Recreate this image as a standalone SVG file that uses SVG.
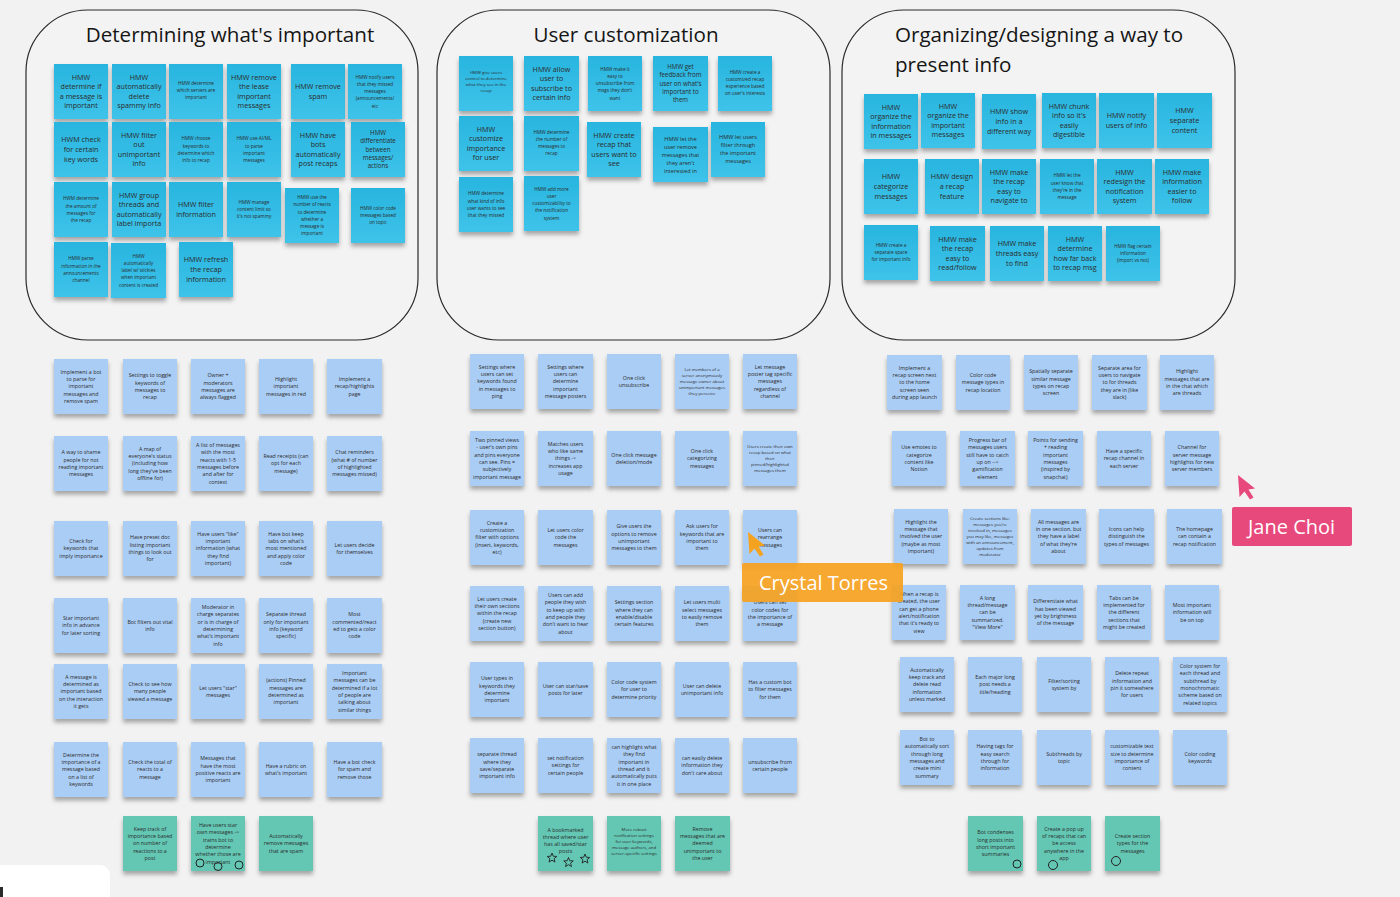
<svg xmlns="http://www.w3.org/2000/svg" width="1400" height="897" viewBox="0 0 1400 897">
<defs>
<linearGradient id="gc" x1="0" y1="0" x2="0" y2="1"><stop offset="0" stop-color="#28b5df"/><stop offset="1" stop-color="#3ec3ea"/></linearGradient>
<filter id="sh" x="-20%" y="-20%" width="140%" height="150%"><feDropShadow dx="0" dy="3.5" stdDeviation="2.2" flood-color="#000" flood-opacity="0.32"/></filter>
<path id="star" d="M0,-5 L1.29,-1.78 L4.76,-1.55 L2.09,0.68 L2.94,4.05 L0,2.2 L-2.94,4.05 L-2.09,0.68 L-4.76,-1.55 L-1.29,-1.78 Z" fill="none" stroke="#222" stroke-width="0.9"/>
</defs>
<style>
.c1{fill:url(#gc);filter:url(#sh)}
.c2{fill:#aacdf5;filter:url(#sh)}
.c3{fill:#63c7b4;filter:url(#sh)}
.box{fill:#f3f3f3;stroke:#2a2a2a;stroke-width:1.2}
text{font-family:"Open Sans","Liberation Sans",sans-serif;fill:#2b2b2b;text-anchor:middle}
.title{font-size:20.6px;fill:#151515}
.L{font-size:7.2px}.K{font-size:6.2px}.Q{font-size:5.6px}.M{font-size:5.3px}.S{font-size:4.7px}.T{font-size:4.3px}
.ring{fill:none;stroke:#222;stroke-width:1}
.lbl{font-size:20px;fill:#fff;text-anchor:start}
</style>
<rect x="0" y="0" width="1400" height="897" fill="#f2f2f2"/>

<g id="frame-important"><rect class="box" x="26" y="10" width="392" height="330" rx="62"/><text class="title" x="230" y="42">Determining what's important</text></g>
<g id="frame-custom"><rect class="box" x="437" y="10" width="393" height="330" rx="62"/><text class="title" x="626" y="42">User customization</text></g>
<g id="frame-organize"><rect class="box" x="842" y="10" width="393" height="330" rx="62"/><text class="title" x="895" y="42" style="text-anchor:start">Organizing/designing a way to</text><text class="title" x="895" y="72" style="text-anchor:start">present info</text></g>

<g id="connectors"></g>

<!-- Top left -->
<g id="a1"><rect class="c1" x="54" y="64" width="54" height="55"/><text class="L" x="81" y="79.6"><tspan x="81">HMW</tspan><tspan x="81" dy="9.6">determine if</tspan><tspan x="81" dy="9.6">a message is</tspan><tspan x="81" dy="9.6">important</tspan></text></g>
<g id="a2"><rect class="c1" x="112" y="64" width="54" height="55"/><text class="L" x="139" y="79.6"><tspan x="139">HMW</tspan><tspan x="139" dy="9.6">automatically</tspan><tspan x="139" dy="9.6">delete</tspan><tspan x="139" dy="9.6">spammy info</tspan></text></g>
<g id="a3"><rect class="c1" x="169" y="64" width="54" height="55"/><text class="S" x="196" y="84.5"><tspan x="196">HMW determine</tspan><tspan x="196" dy="7.3">which servers are</tspan><tspan x="196" dy="7.3">important</tspan></text></g>
<g id="a4"><rect class="c1" x="227" y="64" width="54" height="55"/><text class="L" x="254" y="79.6"><tspan x="254">HMW remove</tspan><tspan x="254" dy="9.6">the lease</tspan><tspan x="254" dy="9.6">important</tspan><tspan x="254" dy="9.6">messages</tspan></text></g>
<g id="a5"><rect class="c1" x="291" y="64" width="54" height="55"/><text class="L" x="318" y="89.2"><tspan x="318">HMW remove</tspan><tspan x="318" dy="9.6">spam</tspan></text></g>
<g id="a6"><rect class="c1" x="348" y="64" width="54" height="55"/><text class="S" x="375" y="78.5"><tspan x="375">HMW notify users</tspan><tspan x="375" dy="7.3">that they missed</tspan><tspan x="375" dy="7.3">messages</tspan><tspan x="375" dy="7.3">(announcements/</tspan><tspan x="375" dy="7.3">etc</tspan></text></g>

<g id="a7"><rect class="c1" x="54" y="122" width="54" height="55"/><text class="L" x="81" y="142.4"><tspan x="81">HWM check</tspan><tspan x="81" dy="9.6">for certain</tspan><tspan x="81" dy="9.6">key words</tspan></text></g>
<g id="a8"><rect class="c1" x="112" y="122" width="54" height="55"/><text class="L" x="139" y="137.6"><tspan x="139">HMW filter</tspan><tspan x="139" dy="9.6">out</tspan><tspan x="139" dy="9.6">unimportant</tspan><tspan x="139" dy="9.6">info</tspan></text></g>
<g id="a9"><rect class="c1" x="169" y="122" width="54" height="55"/><text class="S" x="196" y="140.2"><tspan x="196">HMW choose</tspan><tspan x="196" dy="7.3">keywords to</tspan><tspan x="196" dy="7.3">determine which</tspan><tspan x="196" dy="7.3">info to recap</tspan></text></g>
<g id="a10"><rect class="c1" x="227" y="122" width="54" height="55"/><text class="S" x="254" y="140.2"><tspan x="254">HMW use AI/ML</tspan><tspan x="254" dy="7.3">to parse</tspan><tspan x="254" dy="7.3">important</tspan><tspan x="254" dy="7.3">messages</tspan></text></g>
<g id="a11"><rect class="c1" x="291" y="122" width="54" height="55"/><text class="L" x="318" y="137.6"><tspan x="318">HMW have</tspan><tspan x="318" dy="9.6">bots</tspan><tspan x="318" dy="9.6">automatically</tspan><tspan x="318" dy="9.6">post recaps</tspan></text></g>
<g id="a12"><rect class="c1" x="351" y="122" width="54" height="55"/><text class="K" x="378" y="135.1"><tspan x="378">HMW</tspan><tspan x="378" dy="8.3">differentiate</tspan><tspan x="378" dy="8.3">between</tspan><tspan x="378" dy="8.3">messages/</tspan><tspan x="378" dy="8.3">actions</tspan></text></g>

<g id="a13"><rect class="c1" x="54" y="182" width="54" height="55"/><text class="S" x="81" y="200.2"><tspan x="81">HWM determine</tspan><tspan x="81" dy="7.3">the amount of</tspan><tspan x="81" dy="7.3">messages for</tspan><tspan x="81" dy="7.3">the recap</tspan></text></g>
<g id="a14"><rect class="c1" x="112" y="182" width="54" height="55"/><text class="L" x="139" y="197.6"><tspan x="139">HMW group</tspan><tspan x="139" dy="9.6">threads and</tspan><tspan x="139" dy="9.6">automatically</tspan><tspan x="139" dy="9.6">label importa</tspan></text></g>
<g id="a15"><rect class="c1" x="169" y="182" width="54" height="55"/><text class="L" x="196" y="207.2"><tspan x="196">HMW filter</tspan><tspan x="196" dy="9.6">information</tspan></text></g>
<g id="a16"><rect class="c1" x="227" y="182" width="54" height="55"/><text class="S" x="254" y="203.8"><tspan x="254">HMW manage</tspan><tspan x="254" dy="7.3">content limit so</tspan><tspan x="254" dy="7.3">it's not spammy</tspan></text></g>
<g id="a17"><rect class="c1" x="285" y="188" width="54" height="55"/><text class="S" x="312" y="198.9"><tspan x="312">HMW use the</tspan><tspan x="312" dy="7.3">number of reacts</tspan><tspan x="312" dy="7.3">to determine</tspan><tspan x="312" dy="7.3">whether a</tspan><tspan x="312" dy="7.3">message is</tspan><tspan x="312" dy="7.3">important</tspan></text></g>
<g id="a18"><rect class="c1" x="351" y="188" width="54" height="55"/><text class="S" x="378" y="209.8"><tspan x="378">HMW color code</tspan><tspan x="378" dy="7.3">messages based</tspan><tspan x="378" dy="7.3">on topic</tspan></text></g>

<g id="a19"><rect class="c1" x="54" y="242" width="54" height="55"/><text class="S" x="81" y="260.2"><tspan x="81">HMW parse</tspan><tspan x="81" dy="7.3">information in the</tspan><tspan x="81" dy="7.3">announcements</tspan><tspan x="81" dy="7.3">channel</tspan></text></g>
<g id="a20"><rect class="c1" x="111" y="243" width="55" height="55"/><text class="S" x="138.5" y="257.5"><tspan x="138.5">HMW</tspan><tspan x="138.5" dy="7.3">automatically</tspan><tspan x="138.5" dy="7.3">label w/ stickies</tspan><tspan x="138.5" dy="7.3">when important</tspan><tspan x="138.5" dy="7.3">content is created</tspan></text></g>
<g id="a21"><rect class="c1" x="179" y="242" width="54" height="55"/><text class="L" x="206" y="262.4"><tspan x="206">HMW refresh</tspan><tspan x="206" dy="9.6">the recap</tspan><tspan x="206" dy="9.6">information</tspan></text></g>

<!-- Top middle -->
<g id="b1"><rect class="c1" x="459" y="56" width="54" height="55"/><text class="T" x="486" y="74"><tspan x="486">HMW give users</tspan><tspan x="486" dy="6">control to determine</tspan><tspan x="486" dy="6">what they see in the</tspan><tspan x="486" dy="6">recap</tspan></text></g>
<g id="b2"><rect class="c1" x="524" y="56" width="55" height="55"/><text class="L" x="551.5" y="71.6"><tspan x="551.5">HMW allow</tspan><tspan x="551.5" dy="9.6">user to</tspan><tspan x="551.5" dy="9.6">subscribe to</tspan><tspan x="551.5" dy="9.6">certain info</tspan></text></g>
<g id="b3"><rect class="c1" x="588" y="56" width="54" height="55"/><text class="S" x="615" y="70.5"><tspan x="615">HMW make it</tspan><tspan x="615" dy="7.3">easy to</tspan><tspan x="615" dy="7.3">unsubscribe from</tspan><tspan x="615" dy="7.3">msgs they don't</tspan><tspan x="615" dy="7.3">want</tspan></text></g>
<g id="b4"><rect class="c1" x="653" y="56" width="55" height="55"/><text class="K" x="680.5" y="69.1"><tspan x="680.5">HMW get</tspan><tspan x="680.5" dy="8.3">feedback from</tspan><tspan x="680.5" dy="8.3">user on what's</tspan><tspan x="680.5" dy="8.3">important to</tspan><tspan x="680.5" dy="8.3">them</tspan></text></g>
<g id="b5"><rect class="c1" x="718" y="56" width="54" height="55"/><text class="S" x="745" y="73.5"><tspan x="745">HMW create a</tspan><tspan x="745" dy="7.3">customized recap</tspan><tspan x="745" dy="7.3">experience based</tspan><tspan x="745" dy="7.3">on user's interests</tspan></text></g>
<g id="b6"><rect class="c1" x="459" y="116" width="54" height="55"/><text class="L" x="486" y="131.6"><tspan x="486">HMW</tspan><tspan x="486" dy="9.6">customize</tspan><tspan x="486" dy="9.6">importance</tspan><tspan x="486" dy="9.6">for user</tspan></text></g>
<g id="b7"><rect class="c1" x="524" y="116" width="55" height="55"/><text class="S" x="551.5" y="133.5"><tspan x="551.5">HMW determine</tspan><tspan x="551.5" dy="7.3">the number of</tspan><tspan x="551.5" dy="7.3">messages to</tspan><tspan x="551.5" dy="7.3">recap</tspan></text></g>
<g id="b8"><rect class="c1" x="587" y="122" width="54" height="55"/><text class="L" x="614" y="137.6"><tspan x="614">HMW create</tspan><tspan x="614" dy="9.6">recap that</tspan><tspan x="614" dy="9.6">users want to</tspan><tspan x="614" dy="9.6">see</tspan></text></g>
<g id="b9"><rect class="c1" x="653" y="127" width="55" height="55"/><text class="Q" x="680.5" y="140.5"><tspan x="680.5">HMW let the</tspan><tspan x="680.5" dy="8">user remove</tspan><tspan x="680.5" dy="8">messages that</tspan><tspan x="680.5" dy="8">they aren't</tspan><tspan x="680.5" dy="8">interested in</tspan></text></g>
<g id="b10"><rect class="c1" x="711" y="122" width="54" height="55"/><text class="Q" x="738" y="138.5"><tspan x="738">HMW let users</tspan><tspan x="738" dy="8">filter through</tspan><tspan x="738" dy="8">the important</tspan><tspan x="738" dy="8">messages</tspan></text></g>
<g id="b11"><rect class="c1" x="459" y="177" width="54" height="55"/><text class="S" x="486" y="195.2"><tspan x="486">HMW determine</tspan><tspan x="486" dy="7.3">what kind of info</tspan><tspan x="486" dy="7.3">user wants to see</tspan><tspan x="486" dy="7.3">that they missed</tspan></text></g>
<g id="b12"><rect class="c1" x="524" y="176" width="55" height="55"/><text class="S" x="551.5" y="190.5"><tspan x="551.5">HMW add more</tspan><tspan x="551.5" dy="7.3">user</tspan><tspan x="551.5" dy="7.3">customizability to</tspan><tspan x="551.5" dy="7.3">the notification</tspan><tspan x="551.5" dy="7.3">system</tspan></text></g>

<!-- Top right -->
<g id="c1"><rect class="c1" x="864" y="94" width="54" height="55"/><text class="L" x="891" y="109.6"><tspan x="891">HMW</tspan><tspan x="891" dy="9.6">organize the</tspan><tspan x="891" dy="9.6">information</tspan><tspan x="891" dy="9.6">in messages</tspan></text></g>
<g id="c2"><rect class="c1" x="921" y="93" width="54" height="55"/><text class="L" x="948" y="108.6"><tspan x="948">HMW</tspan><tspan x="948" dy="9.6">organize the</tspan><tspan x="948" dy="9.6">important</tspan><tspan x="948" dy="9.6">messages</tspan></text></g>
<g id="c3"><rect class="c1" x="982" y="94" width="54" height="55"/><text class="L" x="1009" y="114.4"><tspan x="1009">HMW show</tspan><tspan x="1009" dy="9.6">info in a</tspan><tspan x="1009" dy="9.6">different way</tspan></text></g>
<g id="c4"><rect class="c1" x="1042" y="93" width="54" height="55"/><text class="L" x="1069" y="108.6"><tspan x="1069">HMW chunk</tspan><tspan x="1069" dy="9.6">info so it's</tspan><tspan x="1069" dy="9.6">easily</tspan><tspan x="1069" dy="9.6">digestible</tspan></text></g>
<g id="c5"><rect class="c1" x="1099" y="93" width="55" height="55"/><text class="L" x="1126.5" y="118.2"><tspan x="1126.5">HMW notify</tspan><tspan x="1126.5" dy="9.6">users of info</tspan></text></g>
<g id="c6"><rect class="c1" x="1157" y="93" width="55" height="55"/><text class="L" x="1184.5" y="113.4"><tspan x="1184.5">HMW</tspan><tspan x="1184.5" dy="9.6">separate</tspan><tspan x="1184.5" dy="9.6">content</tspan></text></g>
<g id="c7"><rect class="c1" x="864" y="159" width="54" height="55"/><text class="L" x="891" y="179.4"><tspan x="891">HMW</tspan><tspan x="891" dy="9.6">categorize</tspan><tspan x="891" dy="9.6">messages</tspan></text></g>
<g id="c8"><rect class="c1" x="925" y="159" width="54" height="55"/><text class="L" x="952" y="179.4"><tspan x="952">HMW design</tspan><tspan x="952" dy="9.6">a recap</tspan><tspan x="952" dy="9.6">feature</tspan></text></g>
<g id="c9"><rect class="c1" x="982" y="159" width="54" height="55"/><text class="L" x="1009" y="174.6"><tspan x="1009">HMW make</tspan><tspan x="1009" dy="9.6">the recap</tspan><tspan x="1009" dy="9.6">easy to</tspan><tspan x="1009" dy="9.6">navigate to</tspan></text></g>
<g id="c10"><rect class="c1" x="1040" y="159" width="54" height="55"/><text class="S" x="1067" y="177.2"><tspan x="1067">HMW let the</tspan><tspan x="1067" dy="7.3">user know that</tspan><tspan x="1067" dy="7.3">they're in the</tspan><tspan x="1067" dy="7.3">message</tspan></text></g>
<g id="c11"><rect class="c1" x="1097" y="159" width="55" height="55"/><text class="L" x="1124.5" y="174.6"><tspan x="1124.5">HMW</tspan><tspan x="1124.5" dy="9.6">redesign the</tspan><tspan x="1124.5" dy="9.6">notification</tspan><tspan x="1124.5" dy="9.6">system</tspan></text></g>
<g id="c12"><rect class="c1" x="1155" y="159" width="54" height="55"/><text class="L" x="1182" y="174.6"><tspan x="1182">HMW make</tspan><tspan x="1182" dy="9.6">information</tspan><tspan x="1182" dy="9.6">easier to</tspan><tspan x="1182" dy="9.6">follow</tspan></text></g>
<g id="c13"><rect class="c1" x="864" y="225" width="54" height="55"/><text class="S" x="891" y="246.8"><tspan x="891">HMW create a</tspan><tspan x="891" dy="7.3">separate space</tspan><tspan x="891" dy="7.3">for important info</tspan></text></g>
<g id="c14"><rect class="c1" x="930" y="226" width="55" height="55"/><text class="L" x="957.5" y="241.6"><tspan x="957.5">HMW make</tspan><tspan x="957.5" dy="9.6">the recap</tspan><tspan x="957.5" dy="9.6">easy to</tspan><tspan x="957.5" dy="9.6">read/follow</tspan></text></g>
<g id="c15"><rect class="c1" x="990" y="226" width="54" height="55"/><text class="L" x="1017" y="246.4"><tspan x="1017">HMW make</tspan><tspan x="1017" dy="9.6">threads easy</tspan><tspan x="1017" dy="9.6">to find</tspan></text></g>
<g id="c16"><rect class="c1" x="1048" y="226" width="54" height="55"/><text class="L" x="1075" y="241.6"><tspan x="1075">HMW</tspan><tspan x="1075" dy="9.6">determine</tspan><tspan x="1075" dy="9.6">how far back</tspan><tspan x="1075" dy="9.6">to recap msg</tspan></text></g>
<g id="c17"><rect class="c1" x="1106" y="226" width="54" height="55"/><text class="S" x="1133" y="247.8"><tspan x="1133">HMW flag certain</tspan><tspan x="1133" dy="7.3">information</tspan><tspan x="1133" dy="7.3">(import vs not)</tspan></text></g>

<!-- Bottom left -->
<g id="d1"><rect class="c2" x="54" y="359" width="54" height="55"/><text class="M" x="81" y="373.8"><tspan x="81">Implement a bot</tspan><tspan x="81" dy="7.3">to parse for</tspan><tspan x="81" dy="7.3">important</tspan><tspan x="81" dy="7.3">messages and</tspan><tspan x="81" dy="7.3">remove spam</tspan></text></g>
<g id="d2"><rect class="c2" x="123" y="359" width="54" height="55"/><text class="M" x="150" y="377.4"><tspan x="150">Settings to toggle</tspan><tspan x="150" dy="7.3">keywords of</tspan><tspan x="150" dy="7.3">messages to</tspan><tspan x="150" dy="7.3">recap</tspan></text></g>
<g id="d3"><rect class="c2" x="191" y="359" width="54" height="55"/><text class="M" x="218" y="377.4"><tspan x="218">Owner +</tspan><tspan x="218" dy="7.3">moderators</tspan><tspan x="218" dy="7.3">messages are</tspan><tspan x="218" dy="7.3">always flagged</tspan></text></g>
<g id="d4"><rect class="c2" x="259" y="359" width="54" height="55"/><text class="M" x="286" y="381.1"><tspan x="286">Highlight</tspan><tspan x="286" dy="7.3">important</tspan><tspan x="286" dy="7.3">messages in red</tspan></text></g>
<g id="d5"><rect class="c2" x="327" y="359" width="55" height="55"/><text class="M" x="354.5" y="381.1"><tspan x="354.5">Implement a</tspan><tspan x="354.5" dy="7.3">recap/highlights</tspan><tspan x="354.5" dy="7.3">page</tspan></text></g>

<g id="d6"><rect class="c2" x="54" y="436" width="54" height="55"/><text class="M" x="81" y="454.4"><tspan x="81">A way to shame</tspan><tspan x="81" dy="7.3">people for not</tspan><tspan x="81" dy="7.3">reading important</tspan><tspan x="81" dy="7.3">messages</tspan></text></g>
<g id="d7"><rect class="c2" x="123" y="436" width="54" height="55"/><text class="M" x="150" y="450.8"><tspan x="150">A map of</tspan><tspan x="150" dy="7.3">everyone's status</tspan><tspan x="150" dy="7.3">(including how</tspan><tspan x="150" dy="7.3">long they've been</tspan><tspan x="150" dy="7.3">offline for)</tspan></text></g>
<g id="d8"><rect class="c2" x="191" y="436" width="54" height="55"/><text class="M" x="218" y="447.1"><tspan x="218">A list of messages</tspan><tspan x="218" dy="7.3">with the most</tspan><tspan x="218" dy="7.3">reacts with 1-5</tspan><tspan x="218" dy="7.3">messages before</tspan><tspan x="218" dy="7.3">and after for</tspan><tspan x="218" dy="7.3">context</tspan></text></g>
<g id="d9"><rect class="c2" x="259" y="436" width="54" height="55"/><text class="M" x="286" y="458.1"><tspan x="286">Read receipts (can</tspan><tspan x="286" dy="7.3">opt for each</tspan><tspan x="286" dy="7.3">message)</tspan></text></g>
<g id="d10"><rect class="c2" x="327" y="436" width="55" height="55"/><text class="M" x="354.5" y="454.4"><tspan x="354.5">Chat reminders</tspan><tspan x="354.5" dy="7.3">(what # of number</tspan><tspan x="354.5" dy="7.3">of highlighted</tspan><tspan x="354.5" dy="7.3">messages missed)</tspan></text></g>

<g id="d11"><rect class="c2" x="54" y="521" width="54" height="55"/><text class="M" x="81" y="543.1"><tspan x="81">Check for</tspan><tspan x="81" dy="7.3">keywords that</tspan><tspan x="81" dy="7.3">imply importance</tspan></text></g>
<g id="d12"><rect class="c2" x="123" y="521" width="54" height="55"/><text class="M" x="150" y="539.4"><tspan x="150">Have preset doc</tspan><tspan x="150" dy="7.3">listing important</tspan><tspan x="150" dy="7.3">things to look out</tspan><tspan x="150" dy="7.3">for</tspan></text></g>
<g id="d13"><rect class="c2" x="191" y="521" width="54" height="55"/><text class="M" x="218" y="535.8"><tspan x="218">Have users "like"</tspan><tspan x="218" dy="7.3">important</tspan><tspan x="218" dy="7.3">information (what</tspan><tspan x="218" dy="7.3">they find</tspan><tspan x="218" dy="7.3">important)</tspan></text></g>
<g id="d14"><rect class="c2" x="259" y="521" width="54" height="55"/><text class="M" x="286" y="535.8"><tspan x="286">Have bot keep</tspan><tspan x="286" dy="7.3">tabs on what's</tspan><tspan x="286" dy="7.3">most mentioned</tspan><tspan x="286" dy="7.3">and apply color</tspan><tspan x="286" dy="7.3">code</tspan></text></g>
<g id="d15"><rect class="c2" x="327" y="521" width="55" height="55"/><text class="M" x="354.5" y="546.7"><tspan x="354.5">Let users decide</tspan><tspan x="354.5" dy="7.3">for themselves</tspan></text></g>

<g id="d16"><rect class="c2" x="54" y="598" width="54" height="55"/><text class="M" x="81" y="620.1"><tspan x="81">Star important</tspan><tspan x="81" dy="7.3">info in advance</tspan><tspan x="81" dy="7.3">for later sorting</tspan></text></g>
<g id="d17"><rect class="c2" x="123" y="598" width="54" height="55"/><text class="M" x="150" y="623.7"><tspan x="150">Bot filters out vital</tspan><tspan x="150" dy="7.3">info</tspan></text></g>
<g id="d18"><rect class="c2" x="191" y="598" width="54" height="55"/><text class="M" x="218" y="609.1"><tspan x="218">Moderator in</tspan><tspan x="218" dy="7.3">charge separates</tspan><tspan x="218" dy="7.3">or is in charge of</tspan><tspan x="218" dy="7.3">determining</tspan><tspan x="218" dy="7.3">what's important</tspan><tspan x="218" dy="7.3">info</tspan></text></g>
<g id="d19"><rect class="c2" x="259" y="598" width="54" height="55"/><text class="M" x="286" y="616.4"><tspan x="286">Separate thread</tspan><tspan x="286" dy="7.3">only for important</tspan><tspan x="286" dy="7.3">info (keyword</tspan><tspan x="286" dy="7.3">specific)</tspan></text></g>
<g id="d20"><rect class="c2" x="327" y="598" width="55" height="55"/><text class="M" x="354.5" y="616.4"><tspan x="354.5">Most</tspan><tspan x="354.5" dy="7.3">commented/react</tspan><tspan x="354.5" dy="7.3">ed to gets a color</tspan><tspan x="354.5" dy="7.3">code</tspan></text></g>

<g id="d21"><rect class="c2" x="54" y="664" width="54" height="55"/><text class="M" x="81" y="678.8"><tspan x="81">A message is</tspan><tspan x="81" dy="7.3">determined as</tspan><tspan x="81" dy="7.3">important based</tspan><tspan x="81" dy="7.3">on the interaction</tspan><tspan x="81" dy="7.3">it gets</tspan></text></g>
<g id="d22"><rect class="c2" x="123" y="664" width="54" height="55"/><text class="M" x="150" y="686.1"><tspan x="150">Check to see how</tspan><tspan x="150" dy="7.3">many people</tspan><tspan x="150" dy="7.3">viewed a message</tspan></text></g>
<g id="d23"><rect class="c2" x="191" y="664" width="54" height="55"/><text class="M" x="218" y="689.7"><tspan x="218">Let users "star"</tspan><tspan x="218" dy="7.3">messages</tspan></text></g>
<g id="d24"><rect class="c2" x="259" y="664" width="54" height="55"/><text class="M" x="286" y="682.4"><tspan x="286">(actions) Pinned</tspan><tspan x="286" dy="7.3">messages are</tspan><tspan x="286" dy="7.3">determined as</tspan><tspan x="286" dy="7.3">important</tspan></text></g>
<g id="d25"><rect class="c2" x="327" y="664" width="55" height="55"/><text class="M" x="354.5" y="675.1"><tspan x="354.5">Important</tspan><tspan x="354.5" dy="7.3">messages can be</tspan><tspan x="354.5" dy="7.3">determined if a lot</tspan><tspan x="354.5" dy="7.3">of people are</tspan><tspan x="354.5" dy="7.3">talking about</tspan><tspan x="354.5" dy="7.3">similar things</tspan></text></g>

<g id="d26"><rect class="c2" x="54" y="742" width="54" height="55"/><text class="M" x="81" y="756.8"><tspan x="81">Determine the</tspan><tspan x="81" dy="7.3">importance of a</tspan><tspan x="81" dy="7.3">message based</tspan><tspan x="81" dy="7.3">on a list of</tspan><tspan x="81" dy="7.3">keywords</tspan></text></g>
<g id="d27"><rect class="c2" x="123" y="742" width="54" height="55"/><text class="M" x="150" y="764.1"><tspan x="150">Check the total of</tspan><tspan x="150" dy="7.3">reacts to a</tspan><tspan x="150" dy="7.3">message</tspan></text></g>
<g id="d28"><rect class="c2" x="191" y="742" width="54" height="55"/><text class="M" x="218" y="760.4"><tspan x="218">Messages that</tspan><tspan x="218" dy="7.3">have the most</tspan><tspan x="218" dy="7.3">positive reacts are</tspan><tspan x="218" dy="7.3">important</tspan></text></g>
<g id="d29"><rect class="c2" x="259" y="742" width="54" height="55"/><text class="M" x="286" y="767.7"><tspan x="286">Have a rubric on</tspan><tspan x="286" dy="7.3">what's important</tspan></text></g>
<g id="d30"><rect class="c2" x="327" y="742" width="55" height="55"/><text class="M" x="354.5" y="764.1"><tspan x="354.5">Have a bot check</tspan><tspan x="354.5" dy="7.3">for spam and</tspan><tspan x="354.5" dy="7.3">remove those</tspan></text></g>

<g id="d31"><rect class="c3" x="123" y="816" width="54" height="55"/><text class="M" x="150" y="830.8"><tspan x="150">Keep track of</tspan><tspan x="150" dy="7.3">importance based</tspan><tspan x="150" dy="7.3">on number of</tspan><tspan x="150" dy="7.3">reactions to a</tspan><tspan x="150" dy="7.3">post</tspan></text></g>
<g id="d32"><rect class="c3" x="191" y="816" width="54" height="55"/><text class="M" x="218" y="827.1"><tspan x="218">Have users star</tspan><tspan x="218" dy="7.3">own messages -&gt;</tspan><tspan x="218" dy="7.3">trains bot to</tspan><tspan x="218" dy="7.3">determine</tspan><tspan x="218" dy="7.3">whether those are</tspan><tspan x="218" dy="7.3">important</tspan></text><circle class="ring" cx="200" cy="863" r="4"/><circle class="ring" cx="218" cy="866.5" r="4"/><circle class="ring" cx="239" cy="865" r="4"/></g>
<g id="d33"><rect class="c3" x="259" y="816" width="54" height="55"/><text class="M" x="286" y="838.1"><tspan x="286">Automatically</tspan><tspan x="286" dy="7.3">remove messages</tspan><tspan x="286" dy="7.3">that are spam</tspan></text></g>

<!-- Bottom middle -->
<g id="e1"><rect class="c2" x="470" y="354" width="54" height="55"/><text class="M" x="497" y="368.8"><tspan x="497">Settings where</tspan><tspan x="497" dy="7.3">users can set</tspan><tspan x="497" dy="7.3">keywords found</tspan><tspan x="497" dy="7.3">in messages to</tspan><tspan x="497" dy="7.3">ping</tspan></text></g>
<g id="e2"><rect class="c2" x="538" y="354" width="55" height="55"/><text class="M" x="565.5" y="368.8"><tspan x="565.5">Settings where</tspan><tspan x="565.5" dy="7.3">users can</tspan><tspan x="565.5" dy="7.3">determine</tspan><tspan x="565.5" dy="7.3">important</tspan><tspan x="565.5" dy="7.3">message posters</tspan></text></g>
<g id="e3"><rect class="c2" x="607" y="354" width="54" height="55"/><text class="M" x="634" y="379.7"><tspan x="634">One click</tspan><tspan x="634" dy="7.3">unsubscribe</tspan></text></g>
<g id="e4"><rect class="c2" x="675" y="354" width="54" height="55"/><text class="T" x="702" y="371"><tspan x="702">Let members of a</tspan><tspan x="702" dy="6">server anonymously</tspan><tspan x="702" dy="6">message owner about</tspan><tspan x="702" dy="6">unimportant messages</tspan><tspan x="702" dy="6">they perceive</tspan></text></g>
<g id="e5"><rect class="c2" x="743" y="354" width="54" height="55"/><text class="M" x="770" y="368.8"><tspan x="770">Let message</tspan><tspan x="770" dy="7.3">poster tag specific</tspan><tspan x="770" dy="7.3">messages</tspan><tspan x="770" dy="7.3">regardless of</tspan><tspan x="770" dy="7.3">channel</tspan></text></g>

<g id="e6"><rect class="c2" x="470" y="431" width="54" height="55"/><text class="M" x="497" y="442.1"><tspan x="497">Two pinned views</tspan><tspan x="497" dy="7.3">- user's own pins</tspan><tspan x="497" dy="7.3">and pins everyone</tspan><tspan x="497" dy="7.3">can see. Pins =</tspan><tspan x="497" dy="7.3">subjectively</tspan><tspan x="497" dy="7.3">important message</tspan></text></g>
<g id="e7"><rect class="c2" x="538" y="431" width="55" height="55"/><text class="M" x="565.5" y="445.8"><tspan x="565.5">Matches users</tspan><tspan x="565.5" dy="7.3">who like same</tspan><tspan x="565.5" dy="7.3">things -&gt;</tspan><tspan x="565.5" dy="7.3">increases app</tspan><tspan x="565.5" dy="7.3">usage</tspan></text></g>
<g id="e8"><rect class="c2" x="607" y="431" width="54" height="55"/><text class="M" x="634" y="456.7"><tspan x="634">One click message</tspan><tspan x="634" dy="7.3">deletion/mode</tspan></text></g>
<g id="e9"><rect class="c2" x="675" y="431" width="54" height="55"/><text class="M" x="702" y="453.1"><tspan x="702">One click</tspan><tspan x="702" dy="7.3">categorizing</tspan><tspan x="702" dy="7.3">messages</tspan></text></g>
<g id="e10"><rect class="c2" x="743" y="431" width="54" height="55"/><text class="T" x="770" y="448"><tspan x="770">Users create their own</tspan><tspan x="770" dy="6">recap based on what</tspan><tspan x="770" dy="6">their</tspan><tspan x="770" dy="6">pinned/highlighted</tspan><tspan x="770" dy="6">messages them</tspan></text></g>

<g id="e11"><rect class="c2" x="470" y="510" width="54" height="55"/><text class="M" x="497" y="524.8"><tspan x="497">Create a</tspan><tspan x="497" dy="7.3">customization</tspan><tspan x="497" dy="7.3">filter with options</tspan><tspan x="497" dy="7.3">(insert, keywords,</tspan><tspan x="497" dy="7.3">etc)</tspan></text></g>
<g id="e12"><rect class="c2" x="538" y="510" width="55" height="55"/><text class="M" x="565.5" y="532.1"><tspan x="565.5">Let users color</tspan><tspan x="565.5" dy="7.3">code the</tspan><tspan x="565.5" dy="7.3">messages</tspan></text></g>
<g id="e13"><rect class="c2" x="607" y="510" width="54" height="55"/><text class="M" x="634" y="528.4"><tspan x="634">Give users the</tspan><tspan x="634" dy="7.3">options to remove</tspan><tspan x="634" dy="7.3">unimportant</tspan><tspan x="634" dy="7.3">messages to them</tspan></text></g>
<g id="e14"><rect class="c2" x="675" y="510" width="54" height="55"/><text class="M" x="702" y="528.4"><tspan x="702">Ask users for</tspan><tspan x="702" dy="7.3">keywords that are</tspan><tspan x="702" dy="7.3">important to</tspan><tspan x="702" dy="7.3">them</tspan></text></g>
<g id="e15"><rect class="c2" x="743" y="510" width="54" height="55"/><text class="M" x="770" y="532.1"><tspan x="770">Users can</tspan><tspan x="770" dy="7.3">rearrange</tspan><tspan x="770" dy="7.3">messages</tspan></text></g>

<g id="e16"><rect class="c2" x="470" y="586" width="54" height="55"/><text class="M" x="497" y="600.8"><tspan x="497">Let users create</tspan><tspan x="497" dy="7.3">their own sections</tspan><tspan x="497" dy="7.3">within the recap</tspan><tspan x="497" dy="7.3">(create new</tspan><tspan x="497" dy="7.3">section button)</tspan></text></g>
<g id="e17"><rect class="c2" x="538" y="586" width="55" height="55"/><text class="M" x="565.5" y="597.1"><tspan x="565.5">Users can add</tspan><tspan x="565.5" dy="7.3">people they wish</tspan><tspan x="565.5" dy="7.3">to keep up with</tspan><tspan x="565.5" dy="7.3">and people they</tspan><tspan x="565.5" dy="7.3">don't want to hear</tspan><tspan x="565.5" dy="7.3">about</tspan></text></g>
<g id="e18"><rect class="c2" x="607" y="586" width="54" height="55"/><text class="M" x="634" y="604.4"><tspan x="634">Settings section</tspan><tspan x="634" dy="7.3">where they can</tspan><tspan x="634" dy="7.3">enable/disable</tspan><tspan x="634" dy="7.3">certain features</tspan></text></g>
<g id="e19"><rect class="c2" x="675" y="586" width="54" height="55"/><text class="M" x="702" y="604.4"><tspan x="702">Let users multi</tspan><tspan x="702" dy="7.3">select messages</tspan><tspan x="702" dy="7.3">to easily remove</tspan><tspan x="702" dy="7.3">them</tspan></text></g>
<g id="e20"><rect class="c2" x="743" y="586" width="54" height="55"/><text class="M" x="770" y="604.4"><tspan x="770">Users can set</tspan><tspan x="770" dy="7.3">color codes for</tspan><tspan x="770" dy="7.3">the importance of</tspan><tspan x="770" dy="7.3">a message</tspan></text></g>

<g id="e21"><rect class="c2" x="470" y="662" width="54" height="55"/><text class="M" x="497" y="680.4"><tspan x="497">User types in</tspan><tspan x="497" dy="7.3">keywords they</tspan><tspan x="497" dy="7.3">determine</tspan><tspan x="497" dy="7.3">important</tspan></text></g>
<g id="e22"><rect class="c2" x="538" y="662" width="55" height="55"/><text class="M" x="565.5" y="687.7"><tspan x="565.5">User can star/save</tspan><tspan x="565.5" dy="7.3">posts for later</tspan></text></g>
<g id="e23"><rect class="c2" x="607" y="662" width="54" height="55"/><text class="M" x="634" y="684.1"><tspan x="634">Color code system</tspan><tspan x="634" dy="7.3">for user to</tspan><tspan x="634" dy="7.3">determine priority</tspan></text></g>
<g id="e24"><rect class="c2" x="675" y="662" width="54" height="55"/><text class="M" x="702" y="687.7"><tspan x="702">User can delete</tspan><tspan x="702" dy="7.3">unimportant info</tspan></text></g>
<g id="e25"><rect class="c2" x="743" y="662" width="54" height="55"/><text class="M" x="770" y="684.1"><tspan x="770">Has a custom bot</tspan><tspan x="770" dy="7.3">to filter messages</tspan><tspan x="770" dy="7.3">for them</tspan></text></g>

<g id="e26"><rect class="c2" x="470" y="738" width="54" height="55"/><text class="M" x="497" y="756.4"><tspan x="497">separate thread</tspan><tspan x="497" dy="7.3">where they</tspan><tspan x="497" dy="7.3">save/separate</tspan><tspan x="497" dy="7.3">important info</tspan></text></g>
<g id="e27"><rect class="c2" x="538" y="738" width="55" height="55"/><text class="M" x="565.5" y="760.1"><tspan x="565.5">set notification</tspan><tspan x="565.5" dy="7.3">settings for</tspan><tspan x="565.5" dy="7.3">certain people</tspan></text></g>
<g id="e28"><rect class="c2" x="607" y="738" width="54" height="55"/><text class="M" x="634" y="749.1"><tspan x="634">can highlight what</tspan><tspan x="634" dy="7.3">they find</tspan><tspan x="634" dy="7.3">important in</tspan><tspan x="634" dy="7.3">thread and it</tspan><tspan x="634" dy="7.3">automatically puts</tspan><tspan x="634" dy="7.3">it in one place</tspan></text></g>
<g id="e29"><rect class="c2" x="675" y="738" width="54" height="55"/><text class="M" x="702" y="760.1"><tspan x="702">can easily delete</tspan><tspan x="702" dy="7.3">information they</tspan><tspan x="702" dy="7.3">don't care about</tspan></text></g>
<g id="e30"><rect class="c2" x="743" y="738" width="54" height="55"/><text class="M" x="770" y="763.7"><tspan x="770">unsubscribe from</tspan><tspan x="770" dy="7.3">certain people</tspan></text></g>

<g id="e31"><rect class="c3" x="538" y="816" width="55" height="55"/><text class="M" x="565.5" y="831.5"><tspan x="565.5">A bookmarked</tspan><tspan x="565.5" dy="7.3">thread where user</tspan><tspan x="565.5" dy="7.3">has all saved/star</tspan><tspan x="565.5" dy="7.3">posts</tspan></text><use href="#star" x="552" y="858"/><use href="#star" x="568.5" y="862.5"/><use href="#star" x="585" y="859"/></g>
<g id="e32"><rect class="c3" x="607" y="816" width="54" height="55"/><text class="T" x="634" y="831"><tspan x="634">More robust</tspan><tspan x="634" dy="6">notification settings</tspan><tspan x="634" dy="6">for user keywords,</tspan><tspan x="634" dy="6">message authors, and</tspan><tspan x="634" dy="6">server-specific settings</tspan></text></g>
<g id="e33"><rect class="c3" x="675" y="816" width="55" height="55"/><text class="M" x="702.5" y="830.8"><tspan x="702.5">Remove</tspan><tspan x="702.5" dy="7.3">messages that are</tspan><tspan x="702.5" dy="7.3">deemed</tspan><tspan x="702.5" dy="7.3">unimportant to</tspan><tspan x="702.5" dy="7.3">the user</tspan></text></g>

<!-- Bottom right -->
<g id="f1"><rect class="c2" x="887" y="355" width="55" height="55"/><text class="M" x="914.5" y="369.8"><tspan x="914.5">Implement a</tspan><tspan x="914.5" dy="7.3">recap screen next</tspan><tspan x="914.5" dy="7.3">to the home</tspan><tspan x="914.5" dy="7.3">screen seen</tspan><tspan x="914.5" dy="7.3">during app launch</tspan></text></g>
<g id="f2"><rect class="c2" x="956" y="355" width="54" height="55"/><text class="M" x="983" y="377.1"><tspan x="983">Color code</tspan><tspan x="983" dy="7.3">message types in</tspan><tspan x="983" dy="7.3">recap location</tspan></text></g>
<g id="f3"><rect class="c2" x="1024" y="355" width="54" height="55"/><text class="M" x="1051" y="373.4"><tspan x="1051">Spatially separate</tspan><tspan x="1051" dy="7.3">similar message</tspan><tspan x="1051" dy="7.3">types on recap</tspan><tspan x="1051" dy="7.3">screen</tspan></text></g>
<g id="f4"><rect class="c2" x="1092" y="355" width="55" height="55"/><text class="M" x="1119.5" y="369.8"><tspan x="1119.5">Separate area for</tspan><tspan x="1119.5" dy="7.3">users to navigate</tspan><tspan x="1119.5" dy="7.3">to for threads</tspan><tspan x="1119.5" dy="7.3">they are in (like</tspan><tspan x="1119.5" dy="7.3">slack)</tspan></text></g>
<g id="f5"><rect class="c2" x="1160" y="355" width="54" height="55"/><text class="M" x="1187" y="373.4"><tspan x="1187">Highlight</tspan><tspan x="1187" dy="7.3">messages that are</tspan><tspan x="1187" dy="7.3">in the chat which</tspan><tspan x="1187" dy="7.3">are threads</tspan></text></g>

<g id="f6"><rect class="c2" x="892" y="431" width="54" height="55"/><text class="M" x="919" y="449.4"><tspan x="919">Use emotes to</tspan><tspan x="919" dy="7.3">categorize</tspan><tspan x="919" dy="7.3">content like</tspan><tspan x="919" dy="7.3">Notion</tspan></text></g>
<g id="f7"><rect class="c2" x="960" y="431" width="55" height="55"/><text class="M" x="987.5" y="442.1"><tspan x="987.5">Progress bar of</tspan><tspan x="987.5" dy="7.3">messages users</tspan><tspan x="987.5" dy="7.3">still have to catch</tspan><tspan x="987.5" dy="7.3">up on --&gt;</tspan><tspan x="987.5" dy="7.3">gamification</tspan><tspan x="987.5" dy="7.3">element</tspan></text></g>
<g id="f8"><rect class="c2" x="1028" y="431" width="55" height="55"/><text class="M" x="1055.5" y="442.1"><tspan x="1055.5">Points for sending</tspan><tspan x="1055.5" dy="7.3">+ reading</tspan><tspan x="1055.5" dy="7.3">important</tspan><tspan x="1055.5" dy="7.3">messages</tspan><tspan x="1055.5" dy="7.3">(inspired by</tspan><tspan x="1055.5" dy="7.3">snapchat)</tspan></text></g>
<g id="f9"><rect class="c2" x="1097" y="431" width="54" height="55"/><text class="M" x="1124" y="453.1"><tspan x="1124">Have a specific</tspan><tspan x="1124" dy="7.3">recap channel in</tspan><tspan x="1124" dy="7.3">each server</tspan></text></g>
<g id="f10"><rect class="c2" x="1165" y="431" width="54" height="55"/><text class="M" x="1192" y="449.4"><tspan x="1192">Channel for</tspan><tspan x="1192" dy="7.3">server message</tspan><tspan x="1192" dy="7.3">highlights for new</tspan><tspan x="1192" dy="7.3">server members</tspan></text></g>

<g id="f11"><rect class="c2" x="894" y="509" width="54" height="55"/><text class="M" x="921" y="523.8"><tspan x="921">Highlight the</tspan><tspan x="921" dy="7.3">message that</tspan><tspan x="921" dy="7.3">involved the user</tspan><tspan x="921" dy="7.3">(maybe as most</tspan><tspan x="921" dy="7.3">important)</tspan></text></g>
<g id="f12"><rect class="c2" x="963" y="509" width="54" height="55"/><text class="T" x="990" y="520"><tspan x="990">Create sections like:</tspan><tspan x="990" dy="6">messages you're</tspan><tspan x="990" dy="6">involved in, messages</tspan><tspan x="990" dy="6">you may like, messages</tspan><tspan x="990" dy="6">with an announcement,</tspan><tspan x="990" dy="6">updates from</tspan><tspan x="990" dy="6">moderator</tspan></text></g>
<g id="f13"><rect class="c2" x="1031" y="509" width="55" height="55"/><text class="M" x="1058.5" y="523.8"><tspan x="1058.5">All messages are</tspan><tspan x="1058.5" dy="7.3">in one section, but</tspan><tspan x="1058.5" dy="7.3">they have a label</tspan><tspan x="1058.5" dy="7.3">of what they're</tspan><tspan x="1058.5" dy="7.3">about</tspan></text></g>
<g id="f14"><rect class="c2" x="1099" y="509" width="55" height="55"/><text class="M" x="1126.5" y="531.1"><tspan x="1126.5">Icons can help</tspan><tspan x="1126.5" dy="7.3">distinguish the</tspan><tspan x="1126.5" dy="7.3">types of messages</tspan></text></g>
<g id="f15"><rect class="c2" x="1167" y="509" width="55" height="55"/><text class="M" x="1194.5" y="531.1"><tspan x="1194.5">The homepage</tspan><tspan x="1194.5" dy="7.3">can contain a</tspan><tspan x="1194.5" dy="7.3">recap notification</tspan></text></g>

<g id="f16"><rect class="c2" x="892" y="585" width="54" height="55"/><text class="M" x="919" y="596.1"><tspan x="919">When a recap is</tspan><tspan x="919" dy="7.3">created, the user</tspan><tspan x="919" dy="7.3">can get a phone</tspan><tspan x="919" dy="7.3">alert/notification</tspan><tspan x="919" dy="7.3">that it's ready to</tspan><tspan x="919" dy="7.3">view</tspan></text></g>
<g id="f17"><rect class="c2" x="960" y="585" width="55" height="55"/><text class="M" x="987.5" y="599.8"><tspan x="987.5">A long</tspan><tspan x="987.5" dy="7.3">thread/message</tspan><tspan x="987.5" dy="7.3">can be</tspan><tspan x="987.5" dy="7.3">summarized.</tspan><tspan x="987.5" dy="7.3">"View More"</tspan></text></g>
<g id="f18"><rect class="c2" x="1028" y="585" width="55" height="55"/><text class="M" x="1055.5" y="603.4"><tspan x="1055.5">Differentiate what</tspan><tspan x="1055.5" dy="7.3">has been viewed</tspan><tspan x="1055.5" dy="7.3">yet by brightness</tspan><tspan x="1055.5" dy="7.3">of the message</tspan></text></g>
<g id="f19"><rect class="c2" x="1097" y="585" width="54" height="55"/><text class="M" x="1124" y="599.8"><tspan x="1124">Tabs can be</tspan><tspan x="1124" dy="7.3">implemented for</tspan><tspan x="1124" dy="7.3">the different</tspan><tspan x="1124" dy="7.3">sections that</tspan><tspan x="1124" dy="7.3">might be created</tspan></text></g>
<g id="f20"><rect class="c2" x="1165" y="585" width="54" height="55"/><text class="M" x="1192" y="607.1"><tspan x="1192">Most important</tspan><tspan x="1192" dy="7.3">information will</tspan><tspan x="1192" dy="7.3">be on top</tspan></text></g>

<g id="f21"><rect class="c2" x="900" y="657" width="54" height="55"/><text class="M" x="927" y="671.8"><tspan x="927">Automatically</tspan><tspan x="927" dy="7.3">keep track and</tspan><tspan x="927" dy="7.3">delete read</tspan><tspan x="927" dy="7.3">information</tspan><tspan x="927" dy="7.3">unless marked</tspan></text></g>
<g id="f22"><rect class="c2" x="968" y="657" width="54" height="55"/><text class="M" x="995" y="679.1"><tspan x="995">Each major long</tspan><tspan x="995" dy="7.3">post needs a</tspan><tspan x="995" dy="7.3">title/heading</tspan></text></g>
<g id="f23"><rect class="c2" x="1037" y="657" width="54" height="55"/><text class="M" x="1064" y="682.7"><tspan x="1064">Filter/sorting</tspan><tspan x="1064" dy="7.3">system by</tspan></text></g>
<g id="f24"><rect class="c2" x="1105" y="657" width="54" height="55"/><text class="M" x="1132" y="675.4"><tspan x="1132">Delete repeat</tspan><tspan x="1132" dy="7.3">information and</tspan><tspan x="1132" dy="7.3">pin it somewhere</tspan><tspan x="1132" dy="7.3">for users</tspan></text></g>
<g id="f25"><rect class="c2" x="1173" y="657" width="54" height="55"/><text class="M" x="1200" y="668.1"><tspan x="1200">Color system for</tspan><tspan x="1200" dy="7.3">each thread and</tspan><tspan x="1200" dy="7.3">subthread by</tspan><tspan x="1200" dy="7.3">monochromatic</tspan><tspan x="1200" dy="7.3">scheme based on</tspan><tspan x="1200" dy="7.3">related topics</tspan></text></g>

<g id="f26"><rect class="c2" x="900" y="730" width="54" height="55"/><text class="M" x="927" y="741.1"><tspan x="927">Bot to</tspan><tspan x="927" dy="7.3">automatically sort</tspan><tspan x="927" dy="7.3">through long</tspan><tspan x="927" dy="7.3">messages and</tspan><tspan x="927" dy="7.3">create mini</tspan><tspan x="927" dy="7.3">summary</tspan></text></g>
<g id="f27"><rect class="c2" x="968" y="730" width="54" height="55"/><text class="M" x="995" y="748.4"><tspan x="995">Having tags for</tspan><tspan x="995" dy="7.3">easy search</tspan><tspan x="995" dy="7.3">through for</tspan><tspan x="995" dy="7.3">information</tspan></text></g>
<g id="f28"><rect class="c2" x="1037" y="730" width="54" height="55"/><text class="M" x="1064" y="755.7"><tspan x="1064">Subthreads by</tspan><tspan x="1064" dy="7.3">topic</tspan></text></g>
<g id="f29"><rect class="c2" x="1105" y="730" width="54" height="55"/><text class="M" x="1132" y="748.4"><tspan x="1132">customizable text</tspan><tspan x="1132" dy="7.3">size to determine</tspan><tspan x="1132" dy="7.3">importance of</tspan><tspan x="1132" dy="7.3">content</tspan></text></g>
<g id="f30"><rect class="c2" x="1173" y="730" width="54" height="55"/><text class="M" x="1200" y="755.7"><tspan x="1200">Color coding</tspan><tspan x="1200" dy="7.3">keywords</tspan></text></g>

<g id="f31"><rect class="c3" x="968" y="816" width="55" height="55"/><text class="M" x="995.5" y="834.4"><tspan x="995.5">Bot condenses</tspan><tspan x="995.5" dy="7.3">long posts into</tspan><tspan x="995.5" dy="7.3">short important</tspan><tspan x="995.5" dy="7.3">summaries</tspan></text><circle class="ring" cx="1017" cy="864" r="4"/></g>
<g id="f32"><rect class="c3" x="1037" y="816" width="54" height="55"/><text class="M" x="1064" y="830.8"><tspan x="1064">Create a pop up</tspan><tspan x="1064" dy="7.3">of recaps that can</tspan><tspan x="1064" dy="7.3">be access</tspan><tspan x="1064" dy="7.3">anywhere in the</tspan><tspan x="1064" dy="7.3">app</tspan></text><circle class="ring" cx="1053" cy="865" r="4.5"/></g>
<g id="f33"><rect class="c3" x="1105" y="816" width="55" height="55"/><text class="M" x="1132.5" y="838.1"><tspan x="1132.5">Create section</tspan><tspan x="1132.5" dy="7.3">types for the</tspan><tspan x="1132.5" dy="7.3">messages</tspan></text><circle class="ring" cx="1116" cy="861" r="4.5"/></g>

<!-- bottom-left widget -->
<g id="corner-widget"><rect x="-12" y="865" width="122" height="45" rx="10" fill="#ffffff"/><rect x="0" y="887" width="3" height="10" fill="#2a2a2a"/></g>

<!-- cursors -->
<g id="cursor-crystal"><path d="M748,532 L749.5,554 L754.5,548.5 L760,556.5 L763.5,554.5 L758.5,546.5 L765,545.5 Z" fill="#f5a21f"/><rect x="742" y="563" width="161" height="39" rx="2" fill="#f6a21f" fill-opacity="0.92"/><text class="lbl" x="759" y="590">Crystal Torres</text></g>
<g id="cursor-jane"><path d="M1238,475 L1239.5,497 L1244.5,491.5 L1250,499.5 L1253.5,497.5 L1248.5,489.5 L1255,488.5 Z" fill="#e8497c"/><rect x="1232" y="507" width="120" height="39" rx="2" fill="#e8497c"/><text class="lbl" x="1248" y="534">Jane Choi</text></g>
</svg>
